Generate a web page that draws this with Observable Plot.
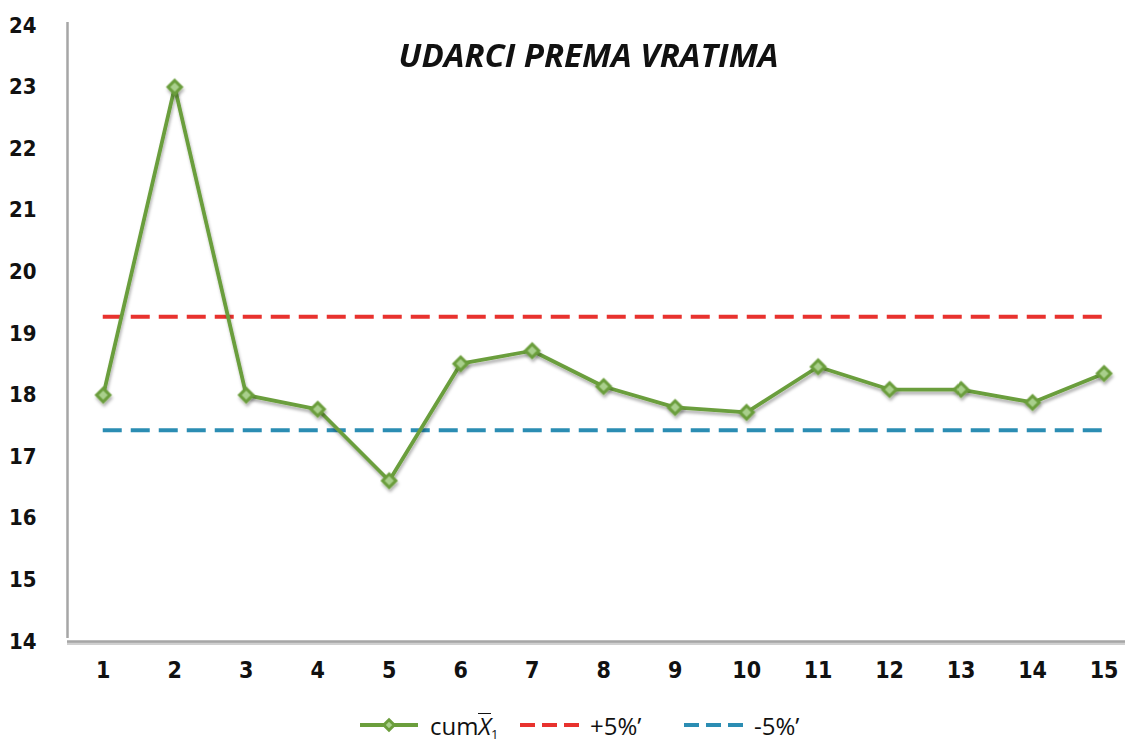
<!DOCTYPE html>
<html>
<head>
<meta charset="utf-8">
<script src="https://cdn.jsdelivr.net/npm/d3@7"></script>
<script src="https://cdn.jsdelivr.net/npm/@observablehq/plot@0.6"></script>
<style>
  html, body { margin: 0; padding: 0; background: #fff; }
  #wrap { width: 1125px; height: 743px; position: relative; overflow: hidden; }
  #legend { position: absolute; left: 0; top: 700px; width: 1125px; height: 43px;
    font-family: "Open Sans", "Noto Sans", sans-serif; font-size: 24px; color: #111; }
  .item { position: absolute; top: 10px; display: flex; align-items: center; height: 30px; }
  .item svg { margin-right: 8px; }
</style>
</head>
<body>
<div id="wrap">
  <div id="chart"></div>
  <div id="legend"></div>
</div>
<script>
const categories = [1, 2, 3, 4, 5, 6, 7, 8, 9, 10, 11, 12, 13, 14, 15];
const cumX = [18.0, 23.0, 18.0, 17.77, 16.61, 18.51, 18.72, 18.14, 17.8, 17.72, 18.46, 18.09, 18.09, 17.88, 18.35];
const upperLimit = 19.27; // +5%
const lowerLimit = 17.43; // -5%
const yTicks = [14, 15, 16, 17, 18, 19, 20, 21, 22, 23, 24];
const title = "UDARCI PREMA VRATIMA";
const legendLabels = ["cum", "+5%’", "-5%’"];

const green = "#6b9e3c", red = "#e8322e", blue = "#2b8db3", axisGray = "#a6a6a6";

const data = categories.map((c, i) => ({x: c, y: cumX[i]}));
const tickFont = "'Liberation Sans Narrow', 'DejaVu Sans Condensed', 'Open Sans', sans-serif";

const chart = Plot.plot({
  width: 1125,
  height: 700,
  marginLeft: 67,
  marginRight: 0,
  marginTop: 25,
  marginBottom: 59,
  x: {type: "linear", domain: [0.5, 15.3], axis: null},
  y: {domain: [14, 24], axis: null},
  style: {background: "#fff", overflow: "visible"},
  marks: [
    // axis lines
    Plot.ruleY([14], {stroke: "#d0d0d0", strokeWidth: 3, dy: 2}),
    Plot.ruleY([14], {stroke: axisGray, strokeWidth: 2.5}),
    Plot.ruleX([0.5], {y1: 14, y2: 24, stroke: axisGray, strokeWidth: 2.5, dy: -3}),
    // tick labels
    Plot.text(yTicks, {y: d => d, frameAnchor: "left", dx: -31, textAnchor: "end",
      fontSize: 22, fontWeight: "bold", fontFamily: tickFont, fill: "#111"}),
    Plot.text(categories, {x: d => d, frameAnchor: "bottom", dy: 36,
      fontSize: 23, fontWeight: "bold", fontFamily: tickFont, fill: "#111"}),
    // limit lines
    Plot.ruleY([upperLimit], {x1: categories[0], x2: categories[categories.length - 1],
      stroke: red, strokeWidth: 4, strokeDasharray: "19,9"}),
    Plot.ruleY([lowerLimit], {x1: categories[0], x2: categories[categories.length - 1],
      stroke: blue, strokeWidth: 4, strokeDasharray: "19,9"}),
    // series
    Plot.line(data, {x: "x", y: "y", stroke: green, strokeWidth: 3.8}),
    Plot.dot(data, {x: "x", y: "y", symbol: "diamond2", r: 6, stroke: green, strokeWidth: 3, fill: "#a9cf8c"}),
    // title
    Plot.text([title], {frameAnchor: "top", dx: -8, dy: 18, fontSize: 33, fontWeight: "bold",
      fontStyle: "italic", fontFamily: "'Open Sans', sans-serif", fill: "#111"})
  ]
});
document.getElementById("chart").appendChild(chart);

// subtle shadow on series
const svg = d3.select(chart);
const defs = svg.insert("defs", ":first-child");
const f = defs.append("filter").attr("id", "shadow").attr("x", "-10%").attr("y", "-10%").attr("width", "120%").attr("height", "130%");
f.append("feDropShadow").attr("dx", 1).attr("dy", 3).attr("stdDeviation", 1.5).attr("flood-color", "#000").attr("flood-opacity", 0.3);
svg.selectAll("g[aria-label='line'], g[aria-label='dot']").attr("filter", "url(#shadow)");

// legend
const legend = document.getElementById("legend");
function swatch(kind, color) {
  const s = d3.create("svg").attr("width", 64).attr("height", 20);
  if (kind === "line") {
    s.append("line").attr("x1", 2).attr("x2", 60).attr("y1", 10).attr("y2", 10)
      .attr("stroke", color).attr("stroke-width", 3.8);
    s.append("path").attr("d", d3.symbol(d3.symbolDiamond2, 70)()).attr("transform", "translate(31,10)")
      .attr("stroke", color).attr("stroke-width", 3).attr("fill", "#a9cf8c");
  } else {
    s.append("line").attr("x1", 2).attr("x2", 62).attr("y1", 10).attr("y2", 10)
      .attr("stroke", color).attr("stroke-width", 4).attr("stroke-dasharray", "15,7");
  }
  return s.node();
}
const items = [
  {left: 358, kind: "line", color: green, html: legendLabels[0] + '<span style="font-style:italic;border-top:1.5px solid #111;line-height:24px;display:inline-block">X</span><span style="font-size:13px;position:relative;top:4px">1</span>'},
  {left: 518, kind: "dash", color: red, html: legendLabels[1]},
  {left: 682, kind: "dash", color: blue, html: legendLabels[2]}
];
for (const it of items) {
  const d = document.createElement("div");
  d.className = "item";
  d.style.left = it.left + "px";
  d.appendChild(swatch(it.kind, it.color));
  const t = document.createElement("span");
  t.innerHTML = it.html;
  d.appendChild(t);
  legend.appendChild(d);
}
</script>
</body>
</html>
